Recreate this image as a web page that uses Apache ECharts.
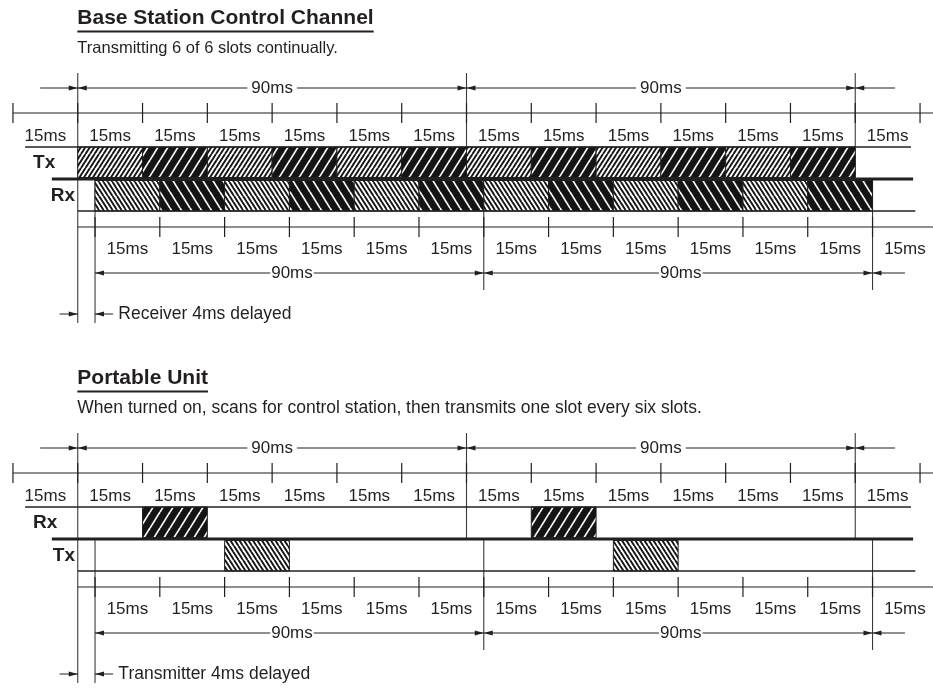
<!DOCTYPE html>
<html><head><meta charset="utf-8">
<script src="https://cdn.jsdelivr.net/npm/echarts@6/dist/echarts.min.js"></script>
<style>html,body{margin:0;padding:0;background:#fff}#c{width:933px;height:688px}</style>
</head><body><div id="c"></div>
<script>
// ================= DATA =================
const sectionTitles = ['Base Station Control Channel', 'Portable Unit'];
const sectionNotes = ['Transmitting 6 of 6 slots continually.',
  'When turned on, scans for control station, then transmits one slot every six slots.'];
const upperRowNames = ['Tx', 'Rx'];
const lowerRowNames = ['Rx', 'Tx'];
const delayNotes = ['Receiver 4ms delayed', 'Transmitter 4ms delayed'];
const slotMs = 15;
const frameMs = 90;
const delayMs = 4;
const slotLabel = '15ms';
const frameLabel = '90ms';
// tick times (ms)
const upperTicks = [-15, 0, 15, 30, 45, 60, 75, 90, 105, 120, 135, 150, 165, 180, 195];
const lowerTicks = [4, 19, 34, 49, 64, 79, 94, 109, 124, 139, 154, 169, 184];
// slot starts that carry a "15ms" label
const upperSlotStarts = [-15, 0, 15, 30, 45, 60, 75, 90, 105, 120, 135, 150, 165, 180];
const lowerSlotStarts = [4, 19, 34, 49, 64, 79, 94, 109, 124, 139, 154, 169, 184];
// frame boundaries (ms)
const upperFrameEdges = [0, 90, 180];
const lowerFrameEdges = [4, 94, 184];
// bursts: slot start time (ms) and hatch kind
const baseTxStarts = [0, 15, 30, 45, 60, 75, 90, 105, 120, 135, 150, 165];
const baseTxHatch = ['fine', 'bold', 'fine', 'bold', 'fine', 'bold', 'fine', 'bold', 'fine', 'bold', 'fine', 'bold'];
const baseRxStarts = [4, 19, 34, 49, 64, 79, 94, 109, 124, 139, 154, 169];
const baseRxHatch = ['fine', 'bold', 'fine', 'bold', 'fine', 'bold', 'fine', 'bold', 'fine', 'bold', 'fine', 'bold'];
const portRxStarts = [15, 105];
const portRxHatch = ['bold', 'bold'];
const portTxStarts = [34, 124];
const portTxHatch = ['fine', 'fine'];

const upperBursts = [[baseTxStarts, baseTxHatch], [portRxStarts, portRxHatch]];
const lowerBursts = [[baseRxStarts, baseRxHatch], [portTxStarts, portTxHatch]];

// ================= LAYOUT / STYLE =================
const INK = '#231f20';
const FONT = '"Liberation Sans", Arial, Helvetica, sans-serif';
const L = {
  sectionTop: [0, 360],
  titleY: 18, underlineY: 31.5, noteY: 48,
  upperDimY: 88, upperAxisY: 113, upperLabelY: 136,
  rowTop: 147, rowMid: 179, rowBottom: 211,
  lowerAxisY: 227, lowerLabelY: 249, lowerDimY: 273, delayY: 314,
  frameTop: 73, upperFrameBottom: 179, lowerFrameTop: 180, lowerFrameBottom: 290, originBottom: 323,
  tickUp: 10, tickDown: 10,
  // horizontal extents in ms
  rowTopFrom: -12.2, rowTopTo: 192.9,
  rowMidFrom: -6, rowMidTo: 193.4,
  rowBottomFrom: 0, rowBottomTo: 193.9,
  axisRight: 198,
  upperDimTailFrom: -8.7, upperDimTailTo: 189.2, lowerDimTailTo: 191.5,
  delayLeftTail: -4.2, delayRightTail: 8.2, delayText: 9.4,
  upperNameX: -10.35, lowerNameX: -0.64,
  titleX: -0.1,
  lowerDimShift: 0.6,
  titleSize: 21, noteSizes: [16.5, 17.5], textSize: 17, delaySize: 17.5, nameSize: 19,
  arrowLen: 9, arrowHalf: 2.6
};

// ================= PATTERNS =================
function makeHatch(W, H, n, lw, bg, fg, back) {
  const c = document.createElement('canvas');
  c.width = W; c.height = H;
  const g = c.getContext('2d');
  g.fillStyle = bg; g.fillRect(0, 0, W, H);
  g.strokeStyle = fg; g.lineWidth = lw; g.lineCap = 'butt';
  const P = W / n;
  for (let k = -n - 1; k <= n + 1; k++) {
    g.beginPath();
    if (!back) { g.moveTo(k * P, H); g.lineTo(k * P + W, 0); }
    else { g.moveTo(k * P, 0); g.lineTo(k * P + W, H); }
    g.stroke();
  }
  return { image: c, repeat: 'repeat' };
}
const hatch = {
  fine: [makeHatch(9, 14, 2, 1.9, '#ffffff', '#141414', false), makeHatch(9, 14, 2, 1.9, '#ffffff', '#141414', true)],
  bold: [makeHatch(10, 16, 1, 1.7, '#141414', '#ffffff', false), makeHatch(10, 16, 1, 1.7, '#141414', '#ffffff', true)]
};

const measureCtx = document.createElement('canvas').getContext('2d');
function textWidth(s, size, weight) {
  measureCtx.font = (weight || 'normal') + ' ' + size + 'px ' + FONT;
  return measureCtx.measureText(s).width;
}

// ================= RENDER =================
function renderSection(params, api) {
  const i = params.dataIndex;
  const top = api.value(1);
  const P = (t, y) => api.coord([t, top + y]);
  const kids = [];
  const seg = (a, b, w, c) => kids.push({ type: 'line', shape: { x1: a[0], y1: a[1], x2: b[0], y2: b[1] },
    style: { stroke: c || INK, lineWidth: w || 1.2 } });
  const line = (t1, y1, t2, y2, w, c) => seg(P(t1, y1), P(t2, y2), w, c);
  const text = (p, s, o) => kids.push({ type: 'text', style: Object.assign({
    x: p[0], y: p[1], text: s, fill: INK, fontFamily: FONT, fontSize: L.textSize,
    align: 'center', verticalAlign: 'middle' }, o || {}) });
  const arrow = (p, dir) => kids.push({ type: 'polygon', shape: { points: [
    [p[0], p[1]], [p[0] - dir * L.arrowLen, p[1] - L.arrowHalf], [p[0] - dir * L.arrowLen, p[1] + L.arrowHalf]] },
    style: { fill: INK } });

  // frame verticals
  upperFrameEdges.forEach((t, k) => line(t, L.frameTop, t, k === 0 ? L.originBottom : L.upperFrameBottom, 1.1, '#3a3a3a'));
  lowerFrameEdges.forEach((t, k) => line(t, L.lowerFrameTop, t, k === 0 ? L.originBottom : L.lowerFrameBottom, 1.1, '#3a3a3a'));

  // bursts
  const addBursts = (pair, y1, y2, dirIdx) => {
    const starts = pair[0], kinds = pair[1];
    starts.forEach((s, k) => {
      const a = P(s, y1), b = P(s + slotMs, y2);
      kids.push({ type: 'rect', shape: { x: a[0], y: a[1], width: b[0] - a[0], height: b[1] - a[1] },
        style: { fill: hatch[kinds[k]][dirIdx], stroke: INK, lineWidth: 1 } });
    });
  };
  addBursts(upperBursts[i], L.rowTop, L.rowMid - 1.5, 0);
  addBursts(lowerBursts[i], L.rowMid + 1.5, L.rowBottom, 1);

  // row lines
  line(L.rowTopFrom, L.rowTop, L.rowTopTo, L.rowTop, 1.4);
  line(L.rowMidFrom, L.rowMid, L.rowMidTo, L.rowMid, 3.2);
  line(L.rowBottomFrom, L.rowBottom, L.rowBottomTo, L.rowBottom, 1.4);

  // axes and ticks
  line(upperTicks[0], L.upperAxisY, L.axisRight, L.upperAxisY, 1.2);
  upperTicks.forEach(t => line(t, L.upperAxisY - L.tickUp, t, L.upperAxisY + L.tickDown, 1.2));
  line(0, L.lowerAxisY, L.axisRight, L.lowerAxisY, 1.2);
  lowerTicks.forEach(t => line(t, L.lowerAxisY - L.tickUp, t, L.lowerAxisY + L.tickDown, 1.2));

  // slot labels
  upperSlotStarts.forEach(s => text(P(s + slotMs / 2, L.upperLabelY), slotLabel));
  lowerSlotStarts.forEach(s => text(P(s + slotMs / 2, L.lowerLabelY), slotLabel));

  // dimension lines
  const fw = textWidth(frameLabel, L.textSize);
  const dim = (edges, y, shift, gap) => {
    for (let k = 0; k < edges.length - 1; k++) {
      const a = P(edges[k], y), b = P(edges[k + 1], y);
      const c = P((edges[k] + edges[k + 1]) / 2 + shift, y);
      seg(a, [c[0] - fw / 2 - gap, y + top], 1);
      seg([c[0] + fw / 2 + gap, y + top], b, 1);
      arrow(a, -1); arrow(b, 1);
      text(c, frameLabel);
    }
  };
  dim(upperFrameEdges, L.upperDimY, 0, 4);
  dim(lowerFrameEdges, L.lowerDimY, L.lowerDimShift, 1);
  // outer tails
  line(L.upperDimTailFrom, L.upperDimY, upperFrameEdges[0], L.upperDimY, 1);
  arrow(P(upperFrameEdges[0], L.upperDimY), 1);
  const ue = upperFrameEdges[upperFrameEdges.length - 1];
  line(ue, L.upperDimY, L.upperDimTailTo, L.upperDimY, 1);
  arrow(P(ue, L.upperDimY), -1);
  const le = lowerFrameEdges[lowerFrameEdges.length - 1];
  line(le, L.lowerDimY, L.lowerDimTailTo, L.lowerDimY, 1);
  arrow(P(le, L.lowerDimY), -1);

  // delay note
  line(L.delayLeftTail, L.delayY, 0, L.delayY, 1);
  arrow(P(0, L.delayY), 1);
  line(delayMs, L.delayY, L.delayRightTail, L.delayY, 1);
  arrow(P(delayMs, L.delayY), -1);
  text(P(L.delayText, L.delayY), delayNotes[i], { align: 'left', fontSize: L.delaySize });

  // row names
  text(P(L.upperNameX, (L.rowTop + L.rowMid) / 2), upperRowNames[i], { align: 'left', fontWeight: 'bold', fontSize: L.nameSize });
  text(P(L.lowerNameX, (L.rowMid + L.rowBottom) / 2 + 1), lowerRowNames[i], { align: 'right', fontWeight: 'bold', fontSize: L.nameSize });

  // title + note
  const tp = P(L.titleX, L.titleY);
  text(tp, sectionTitles[i], { align: 'left', fontWeight: 'bold', fontSize: L.titleSize });
  const tw = textWidth(sectionTitles[i], L.titleSize, 'bold');
  seg([tp[0], top + L.underlineY], [tp[0] + tw, top + L.underlineY], 1.8);
  text(P(L.titleX, L.noteY), sectionNotes[i], { align: 'left', fontSize: L.noteSizes[i] });

  return { type: 'group', children: kids };
}

const chart = echarts.init(document.getElementById('c'), null, { renderer: 'canvas' });
chart.setOption({
  animation: false,
  grid: { left: 0, right: 0, top: 0, bottom: 0 },
  xAxis: { type: 'value', min: -18, max: 198, show: false },
  yAxis: { type: 'value', min: 0, max: 688, inverse: true, show: false },
  series: [{
    type: 'custom', coordinateSystem: 'cartesian2d', silent: true,
    data: sectionTitles.map((_, i) => [0, L.sectionTop[i]]),
    renderItem: renderSection
  }]
});
</script></body></html>
